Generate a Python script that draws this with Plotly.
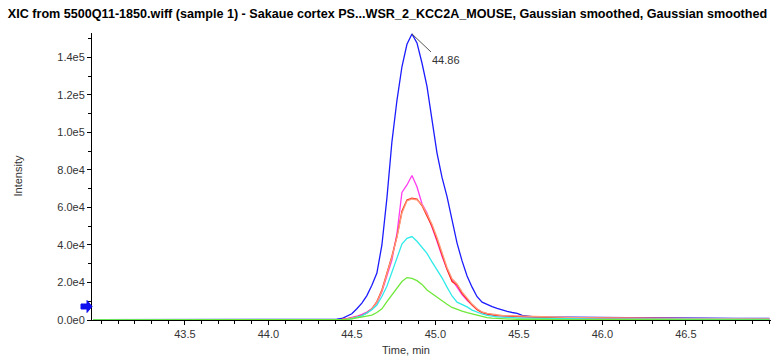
import plotly.graph_objects as go

# ---- data ----
times = [42.95, 44.30,
         44.38, 44.41, 44.44, 44.47, 44.50, 44.53, 44.56, 44.59, 44.62, 44.65,
         44.68, 44.71, 44.74, 44.77, 44.80, 44.83, 44.86, 44.89, 44.92, 44.95,
         44.98, 45.01, 45.04, 45.07, 45.10, 45.13, 45.16, 45.19, 45.22, 45.25,
         45.28, 45.31, 45.34, 45.37, 45.40, 45.43, 45.46, 45.49, 45.52, 45.55,
         45.58, 45.61,
         45.70, 45.85, 46.00, 46.15, 46.30, 46.45, 46.60, 46.80, 47.00]

blue = [200, 200,
        300, 400, 800, 2000, 3300, 6000, 9000, 13000, 18500, 25000,
        40000, 65000, 95000, 117000, 135000, 147000, 152500, 147700, 137000, 124500,
        106000, 89000, 76000, 65800, 53400, 41000, 31500, 23500, 17500, 12400,
        9500, 8200, 7100, 6200, 5300, 4600, 4000, 3500, 2500, 2000,
        1800, 1600,
        1500, 1400, 1300, 1200, 1300, 1100, 900, 800, 800]

magenta = [0, 0,
           0, 100, 300, 700, 1200, 2000, 3000, 4200, 6000, 9000,
           15000, 23000, 32000, 46000, 68000, 72000, 77000, 71000, 62000, 57000,
           50000, 42000, 34000, 27000, 21500, 17500, 13500, 10500, 8000, 5800,
           4000, 3200, 2700, 2400, 2200, 2100, 2000, 1900, 1800, 1600,
           1500, 1400,
           1200, 1100, 1000, 900, 800, 700, 600, 500, 500]

red = [0, 0,
       0, 100, 300, 600, 1100, 1700, 2500, 3800, 6000, 9800,
       16000, 25000, 34000, 44500, 58000, 64000, 65000, 64500, 61000, 55500,
       50000, 42700, 34500, 27000, 20500, 18700, 14200, 10800, 8000, 5500,
       3900, 3200, 2700, 2400, 2200, 2100, 2000, 1900, 1800, 1700,
       1600, 1500,
       1300, 1100, 1000, 900, 800, 700, 600, 500, 500]

orange = [0, 0,
          0, 100, 250, 550, 1000, 1600, 2400, 3600, 5800, 9500,
          15500, 24500, 33500, 44000, 57000, 63500, 64500, 64000, 61500, 56500,
          51000, 44000, 35500, 28000, 22000, 19200, 15000, 11500, 8500, 6000,
          4300, 3500, 3000, 2600, 2400, 2300, 2200, 2100, 2000, 1900,
          1800, 1700,
          1500, 1300, 1100, 1000, 900, 800, 700, 600, 600]

cyan = [0, 0,
        0, 0, 100, 300, 700, 1300, 2200, 3800, 5500, 8000,
        12500, 18000, 25500, 32500, 40500, 43500, 44500, 42000, 39000, 35500,
        31000, 27000, 22500, 17500, 12800, 9500, 8300, 7000, 5300, 4200,
        3200, 2500, 2000, 1700, 1500, 1300, 1200, 1100, 1000, 950,
        900, 850,
        700, 600, 500, 500, 400, 400, 300, 300, 300]

green = [0, 0,
         0, 0, 0, 300, 600, 1000, 1600, 2100, 2600, 4000,
         6000, 9800, 13300, 16900, 20500, 22600, 22200, 21000, 19000, 16000,
         14000, 12400, 10300, 8400, 6700, 5500, 4700, 3900, 3200, 2500,
         1800, 1300, 1000, 800, 600, 500, 450, 400, 350, 300,
         300, 300,
         250, 200, 200, 150, 150, 100, 100, 100, 100]

series = [("blue", blue, "#1c1cff"),
          ("magenta", magenta, "#ff3cf0"),
          ("red", red, "#ff2a1a"),
          ("orange", orange, "#ff9a78"),
          ("cyan", cyan, "#30eaea"),
          ("green", green, "#6ee83a")]

ytick_vals = [0, 20000, 40000, 60000, 80000, 100000, 120000, 140000]
ytick_text = ["0.0e0", "2.0e4", "4.0e4", "6.0e4", "8.0e4", "1.0e5", "1.2e5", "1.4e5"]
xtick_vals = [43.5, 44.0, 44.5, 45.0, 45.5, 46.0, 46.5]
xtick_text = ["43.5", "44.0", "44.5", "45.0", "45.5", "46.0", "46.5"]

peak_time = 44.86
peak_value = 152500
threshold = 7200

title_text = ("XIC from 5500Q11-1850.wiff (sample 1) - Sakaue cortex PS...WSR_2_KCC2A_MOUSE, "
              "Gaussian smoothed, Gaussian smoothed")

# ---- figure ----
fig = go.Figure()
for name, vals, col in series:
    fig.add_trace(go.Scatter(x=times, y=vals, mode="lines", name=name,
                             line=dict(color=col, width=1.3), showlegend=False))

tick_font = dict(family="Liberation Sans, Arial, sans-serif", size=11, color="#333333")

W, H = 772, 357
L, R, T, B = 92, 1, 33, 37
pw = W - L - R
ph = H - T - B

fig.update_layout(
    width=W, height=H,
    margin=dict(l=L, r=R, t=T, b=B),
    paper_bgcolor="white", plot_bgcolor="white",
    xaxis=dict(range=[42.944, 47.01], showgrid=False, zeroline=False,
               showline=True, linecolor="black", linewidth=1,
               tickmode="array", tickvals=xtick_vals, ticktext=xtick_text,
               ticks="outside", ticklen=4, tickcolor="black", tickfont=tick_font,
               minor=dict(dtick=0.1, tick0=43.0, ticks="outside", ticklen=3,
                          tickcolor="black", showgrid=False)),
    yaxis=dict(range=[0, 153000], showgrid=False, zeroline=False,
               showline=True, linecolor="black", linewidth=1,
               tickmode="array", tickvals=ytick_vals, ticktext=ytick_text,
               ticks="outside", ticklen=4, tickcolor="black", tickfont=tick_font,
               minor=dict(dtick=10000, tick0=0, ticks="outside", ticklen=3,
                          tickcolor="black", showgrid=False)),
    title=dict(text="<b>" + title_text + "</b>", x=387.5 / W, xanchor="center",
               y=1 - 14 / H, yanchor="middle",
               font=dict(family="Liberation Sans Narrow, Arial Narrow, Liberation Sans, sans-serif",
                         size=12.6, color="black")),
)

# peak label and leader line
fig.add_annotation(x=peak_time, y=peak_value, xref="x", yref="y",
                   text=f"{peak_time:.2f}", showarrow=True, arrowhead=0,
                   arrowwidth=1, arrowcolor="rgba(0,0,0,0)", ax=34, ay=26,
                   font=dict(family="Liberation Sans, Arial, sans-serif", size=11, color="#333333"))
fig.add_shape(type="line", xref="x", yref="y", xsizemode="pixel", ysizemode="pixel",
              xanchor=peak_time, yanchor=peak_value, x0=0, y0=0, x1=19, y1=-18,
              line=dict(color="#555555", width=1))

# axis titles
fig.add_annotation(x=(17 - L) / pw, y=0.5, xref="paper", yref="paper",
                   text="Intensity", textangle=-90, showarrow=False,
                   xanchor="center", yanchor="middle",
                   font=dict(family="Liberation Sans, Arial, sans-serif", size=11, color="#333333"))
fig.add_annotation(x=(406 - L) / pw, y=-(350 - (T + ph)) / ph, xref="paper", yref="paper",
                   text="Time, min", showarrow=False, xanchor="center", yanchor="middle",
                   font=dict(family="Liberation Sans, Arial, sans-serif", size=11, color="#333333"))

# threshold arrow
fig.add_shape(type="path", xref="paper", yref="y", xsizemode="pixel", ysizemode="pixel",
              xanchor=0, yanchor=threshold,
              path="M-11,-2.5 L-5,-2.5 L-5,-6 L0,0 L-5,6 L-5,2.5 L-11,2.5 Z",
              fillcolor="#1010ee", line=dict(color="#1010ee", width=1))

fig.write_html("out.html", config={"displayModeBar": False},
               post_script="document.body.style.margin='0';document.body.style.padding='0';")
